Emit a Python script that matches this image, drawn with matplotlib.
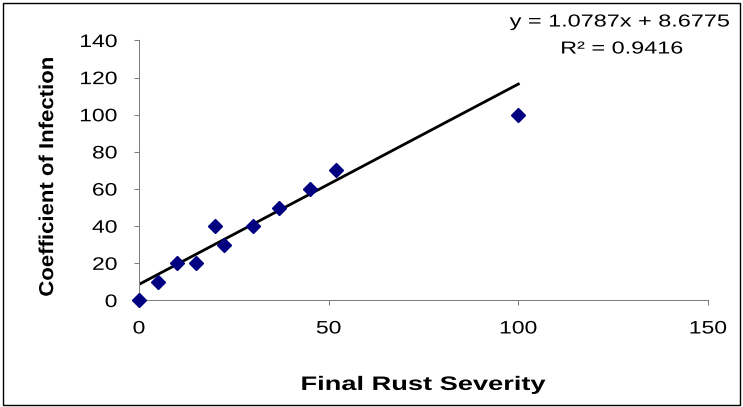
import numpy as np
import matplotlib.pyplot as plt
from matplotlib.patches import Rectangle
from matplotlib.patheffects import AbstractPathEffect
from matplotlib.transforms import Affine2D

plt.rcParams['font.family'] = ['Liberation Sans', 'DejaVu Sans']

# Data
severity = [0, 5, 10, 15, 20, 22.5, 30, 37, 45, 52, 100]
infection = [0, 10, 20, 20, 40, 30, 40, 50, 60, 70, 100]
slope, intercept = 1.0787, 8.6775
r2 = 0.9416
xticks = [0, 50, 100, 150]
yticks = [0, 20, 40, 60, 80, 100, 120, 140]


class Stretch(AbstractPathEffect):
    """Draw text wider (or taller) than the font, like the Excel original."""

    def __init__(self, sx=1.0, sy=1.0, ha='center', va='center'):
        super().__init__()
        self.sx, self.sy, self.ha, self.va = sx, sy, ha, va

    def draw_path(self, renderer, gc, tpath, affine, rgbFace=None):
        bb = tpath.get_extents(affine)
        x0 = {'left': bb.x0, 'center': bb.x0 + bb.width / 2, 'right': bb.x1}[self.ha]
        y0 = {'bottom': bb.y0, 'center': bb.y0 + bb.height / 2, 'top': bb.y1}[self.va]
        st = Affine2D().translate(-x0, -y0).scale(self.sx, self.sy).translate(x0, y0)
        renderer.draw_path(gc, tpath, affine + st, rgbFace)


fig = plt.figure(figsize=(7.43, 4.07), dpi=100)
ax = fig.add_axes([0.1871, 0.2617, 0.7658, 0.6388])

# trendline over the data range
xl = np.array([min(severity), max(severity)])
ax.plot(xl, slope * xl + intercept, color='black', lw=2.0, zorder=2)
ax.plot(severity, infection, linestyle='none', marker='D', ms=7,
        color='#000080', zorder=3, clip_on=False)

ax.set_xlim(0, 150)
ax.set_ylim(0, 140)
ax.set_xticks(xticks)
ax.set_yticks(yticks)
ax.tick_params(labelsize=13, length=3.6, width=0.75, color='#808080')
ax.tick_params(axis='x', pad=10.8)
ax.tick_params(axis='y', pad=12)
for s in ['top', 'right']:
    ax.spines[s].set_visible(False)
for s in ['left', 'bottom']:
    ax.spines[s].set_color('#808080')
    ax.spines[s].set_linewidth(0.75)

for lab in ax.get_xticklabels():
    lab.set_path_effects([Stretch(sx=1.27, ha='center')])
for lab in ax.get_yticklabels():
    lab.set_path_effects([Stretch(sx=1.27, ha='right')])

ax.set_xlabel('Final Rust Severity', fontsize=14, fontweight='bold',
              path_effects=[Stretch(sx=1.4)])
ax.xaxis.set_label_coords(0.5, -0.294)
ax.set_ylabel('Coefficient of Infection', fontsize=14.5, fontweight='bold',
              path_effects=[Stretch(sy=1.1)])
ax.yaxis.set_label_coords(-0.144, 0.475)

fig.text(620 / 743, 1 - 22 / 407, f'y = {slope}x + {intercept}', fontsize=12.5,
         ha='center', va='center', path_effects=[Stretch(sx=1.35)])
fig.text(622 / 743, 1 - 49 / 407, f'R\u00b2 = {r2}', fontsize=12.5,
         ha='center', va='center', path_effects=[Stretch(sx=1.35)])

# outer frame
fig.patches.append(Rectangle((0.0047, 0.0037), 0.991, 0.989, transform=fig.transFigure,
                             fill=False, edgecolor='black', lw=1))

fig.savefig('out.png', dpi=100)
